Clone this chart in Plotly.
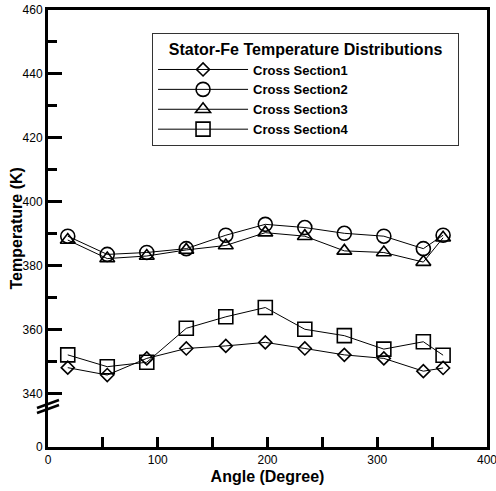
import plotly.graph_objects as go

# ---- data ----
angles = [18, 54, 90, 126, 162, 198, 234, 270, 306, 342, 360]
cs1 = [348.2, 345.9, 351.1, 354.2, 355.0, 356.1, 354.2, 352.2, 351.1, 347.1, 348.1]
cs2 = [389.3, 383.6, 384.2, 385.4, 389.6, 393.0, 392.0, 390.2, 389.3, 385.4, 389.6]
cs3 = [388.1, 382.3, 383.1, 385.0, 386.4, 390.4, 389.3, 384.7, 384.2, 381.2, 388.8]
cs4 = [352.2, 348.5, 349.9, 360.5, 364.1, 367.0, 360.2, 358.2, 354.0, 356.3, 352.1]

series_names = ["Cross Section1", "Cross Section2", "Cross Section3", "Cross Section4"]
legend_title = "Stator-Fe Temperature Distributions"

# broken y axis: the "0" label sits at the bottom, below the break
y_break_bottom = 323.4
y_tick_vals = [y_break_bottom, 340, 360, 380, 400, 420, 440, 460]
y_tick_text = ["0", "340", "360", "380", "400", "420", "440", "460"]
y_minor_vals = [350, 370, 390, 410, 430, 450]
x_tick_vals = [0, 100, 200, 300, 400]

FONT = "Arial, Liberation Sans, sans-serif"

symbols = ["diamond-open", "circle-open", "triangle-up-open", "square-open"]
sizes = [10, 14, 13, 14]

fig = go.Figure()
for name, ys, sym, sz in zip(series_names, [cs1, cs2, cs3, cs4], symbols, sizes):
    fig.add_trace(go.Scatter(
        x=angles, y=ys, name=name, mode="lines+markers",
        line=dict(color="black", width=1),
        marker=dict(symbol=sym, size=sz, color="black", line=dict(color="black", width=1.6)),
    ))

pad = "\u00a0" * 3
fig.update_layout(
    width=496, height=491, autosize=False,
    margin=dict(l=48, r=9, t=10, b=44, autoexpand=False),
    plot_bgcolor="white", paper_bgcolor="white",
    font=dict(family=FONT, color="black", size=12),
    showlegend=True,
    legend=dict(
        x=0.237, y=0.948, xanchor="left", yanchor="top",
        bgcolor="white", bordercolor="#333", borderwidth=1,
        font=dict(family=FONT, size=13, weight="bold", color="black"),
        title=dict(text=pad + legend_title + pad, side="top center",
                   font=dict(family=FONT, size=16, weight="bold", color="black")),
        itemwidth=90, tracegroupgap=0,
    ),
)

fig.update_xaxes(
    range=[0, 400], tickvals=x_tick_vals, automargin=False, ticklabeloverflow="allow",
    showline=True, linewidth=3, linecolor="black", mirror=True,
    ticks="inside", ticklen=10, tickwidth=3, tickcolor="black",
    minor=dict(dtick=50, tick0=0, ticks="inside", ticklen=10, tickwidth=3, tickcolor="black", showgrid=False),
    showgrid=False, zeroline=False,
    tickfont=dict(family=FONT, size=12, color="black"),
    title=dict(text="Angle (Degree)", standoff=5,
               font=dict(family=FONT, size=16, weight="bold", color="black")),
)

fig.update_yaxes(
    range=[y_break_bottom, 460], tickvals=y_tick_vals, ticktext=y_tick_text,
    automargin=False, ticklabeloverflow="allow",
    showline=True, linewidth=3, linecolor="black", mirror=True,
    ticks="inside", ticklen=14, tickwidth=3, tickcolor="black",
    minor=dict(tickvals=y_minor_vals, ticks="inside", ticklen=9, tickwidth=3, tickcolor="black", showgrid=False),
    showgrid=False, zeroline=False,
    tickfont=dict(family=FONT, size=12, color="black"),
)

# y-axis title placed as rotated annotation (overlaps tick labels as in reference)
fig.add_annotation(
    text="Temperature (K)", xref="paper", yref="paper",
    x=(16 - 48) / 439, y=0.5, xanchor="center", yanchor="middle",
    textangle=-90, showarrow=False,
    font=dict(family=FONT, size=16, weight="bold", color="black"),
)

# axis-break marks (//)
def px_x(px):
    return (px - 48) / 439

def px_y(py):
    return (447 - py) / 437

for (x0, y0, x1, y1) in [(37, 408, 59, 400), (37, 413, 59, 405)]:
    fig.add_shape(type="line", xref="paper", yref="paper",
                  x0=px_x(x0), y0=px_y(y0), x1=px_x(x1), y1=px_y(y1),
                  line=dict(color="black", width=2.5))

fig.write_html("out.html")
